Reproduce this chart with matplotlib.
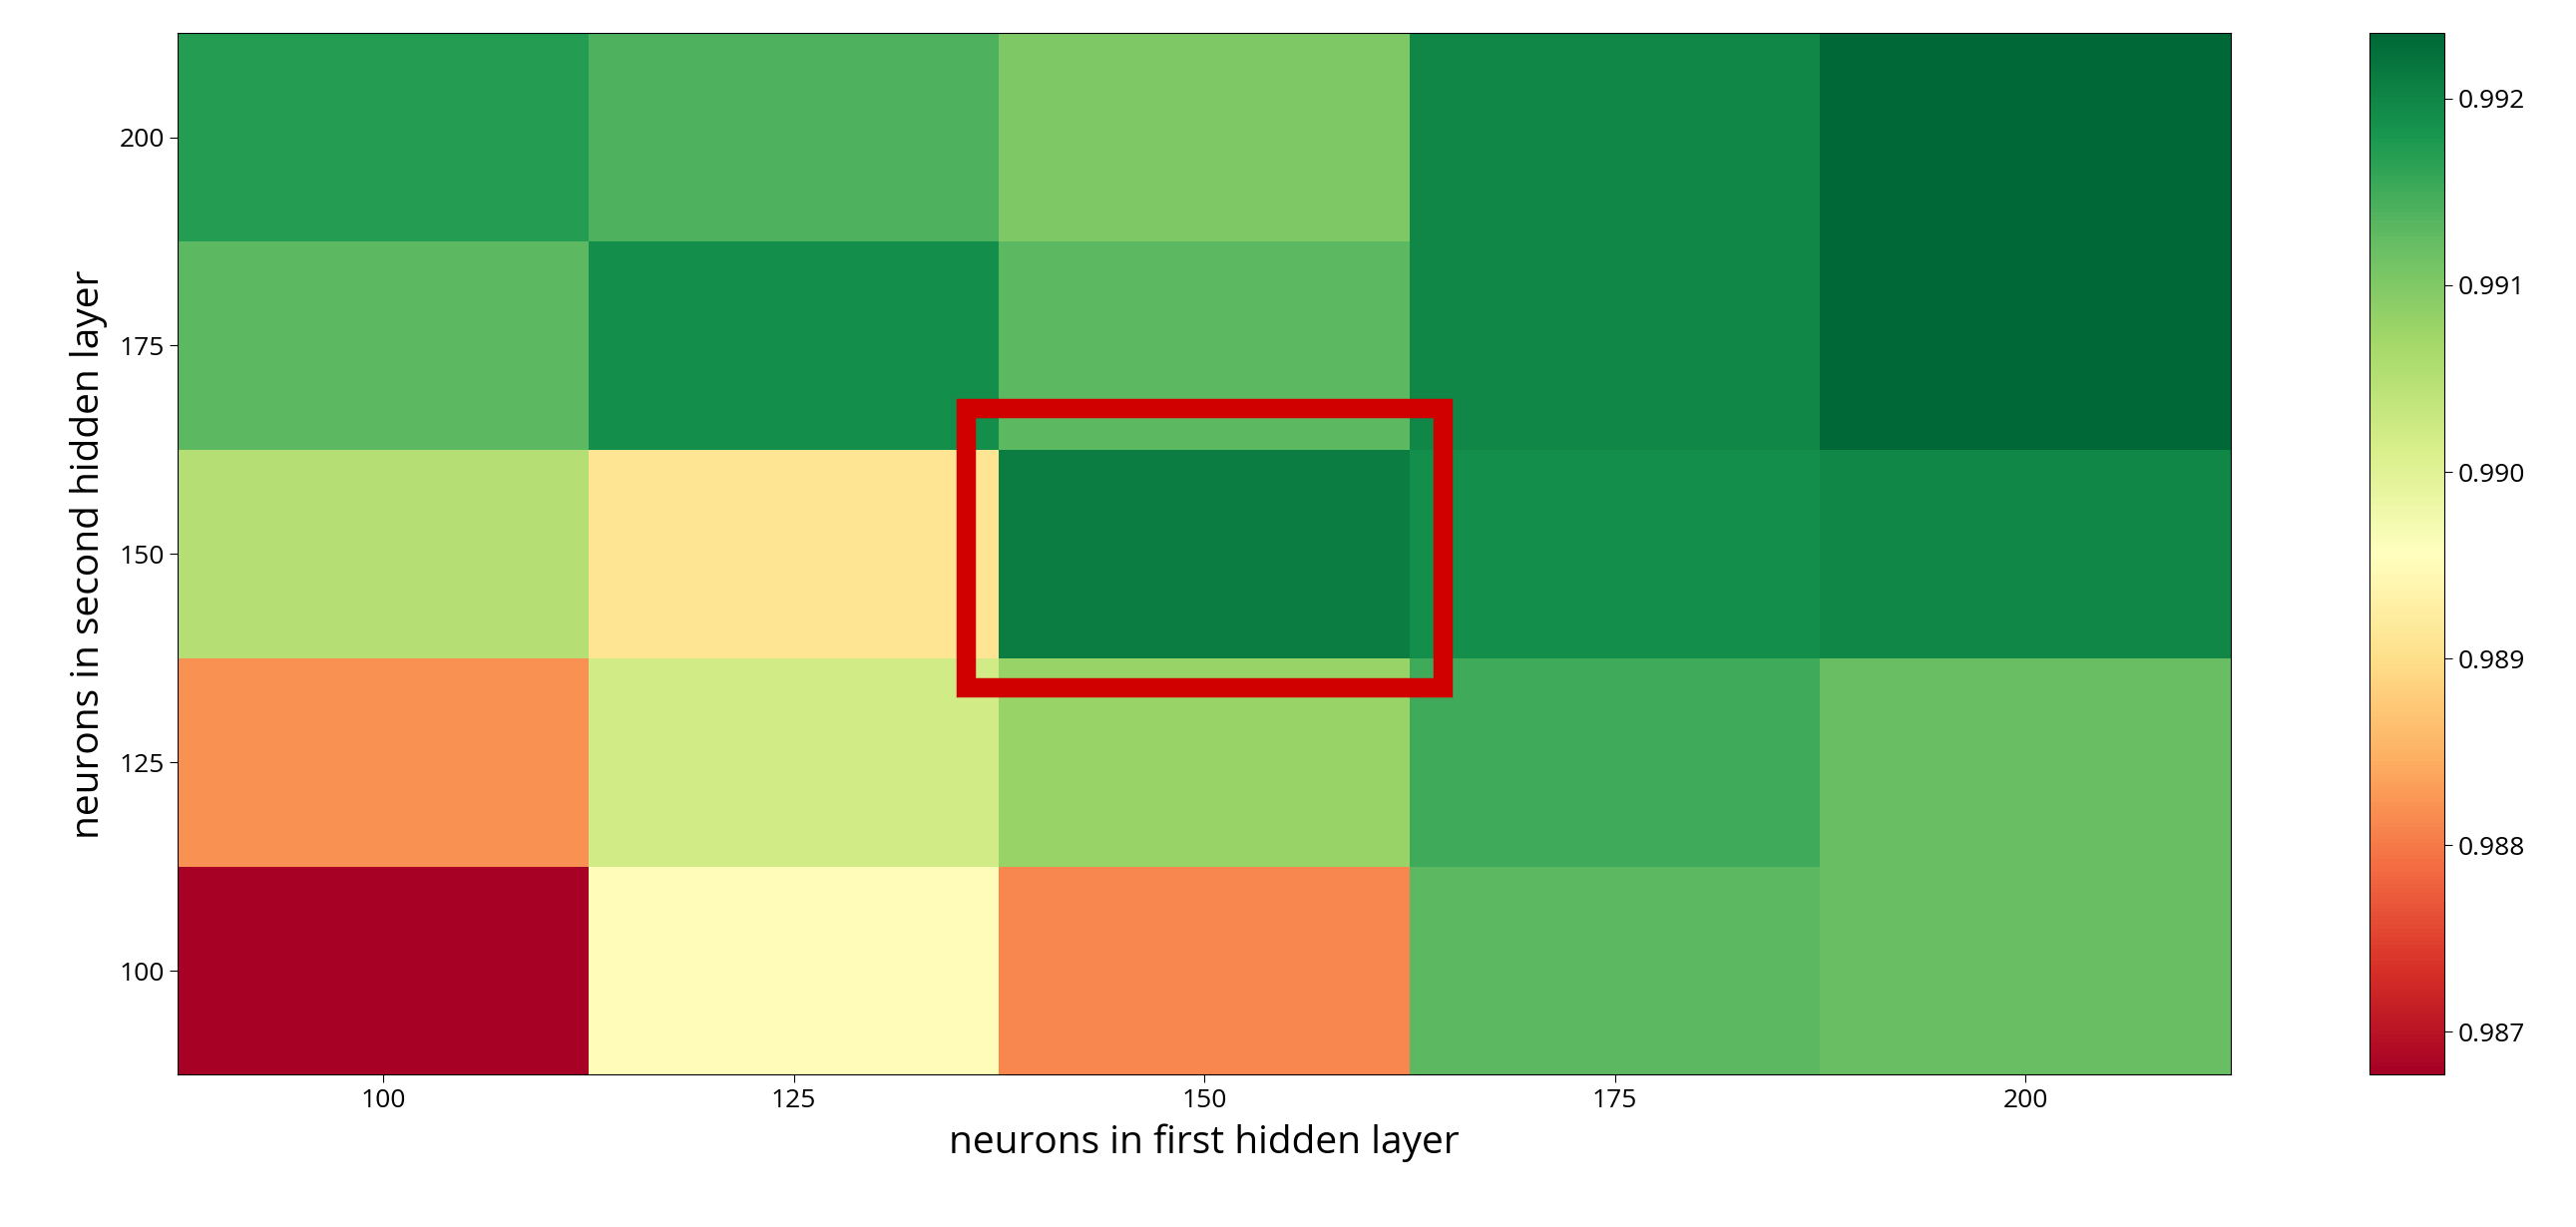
import numpy as np
import matplotlib
matplotlib.use('Agg')
import matplotlib.pyplot as plt
from matplotlib.patches import Rectangle

matplotlib.rcParams['font.family'] = ['Open Sans', 'DejaVu Sans']

first_layer = [100, 125, 150, 175, 200]
second_layer = [100, 125, 150, 175, 200]
# rows: second hidden layer (100 -> 200), cols: first hidden layer
accuracy = np.array([
    [0.9868, 0.9895, 0.9881, 0.9913, 0.9912],
    [0.9882, 0.9902, 0.9908, 0.9915, 0.9912],
    [0.9905, 0.9891, 0.9921, 0.9919, 0.9920],
    [0.9913, 0.9919, 0.9913, 0.9920, 0.99235],
    [0.9917, 0.9914, 0.9910, 0.9920, 0.99235],
])

fig = plt.figure(figsize=(25.82, 12.30), dpi=100)
ax = fig.add_axes([0.069, 0.124, 0.797, 0.849])
cax = fig.add_axes([0.920, 0.124, 0.029, 0.849])

xe = np.arange(87.5, 225, 25)
ye = np.arange(87.5, 225, 25)
mesh = ax.pcolormesh(xe, ye, accuracy, cmap='RdYlGn', vmin=0.98677, vmax=0.99235)
ax.set_xticks(first_layer)
ax.set_yticks(second_layer)
ax.tick_params(labelsize=19, length=6)
ax.set_xlabel('neurons in first hidden layer', fontsize=28, labelpad=8)
ax.set_ylabel('neurons in second hidden layer', fontsize=28, labelpad=8)

cb = fig.colorbar(mesh, cax=cax)
cb.set_ticks([0.987, 0.988, 0.989, 0.990, 0.991, 0.992])
cb.ax.tick_params(labelsize=19, length=6)
cb.ax.yaxis.set_major_formatter(matplotlib.ticker.FormatStrFormatter('%.3f'))

# highlight best configuration
ax.add_patch(Rectangle((135.5, 134.0), 29, 33.5, fill=False, edgecolor='#d00000',
                       linewidth=14, clip_on=False, zorder=5))

fig.savefig('out.png', dpi=100)
